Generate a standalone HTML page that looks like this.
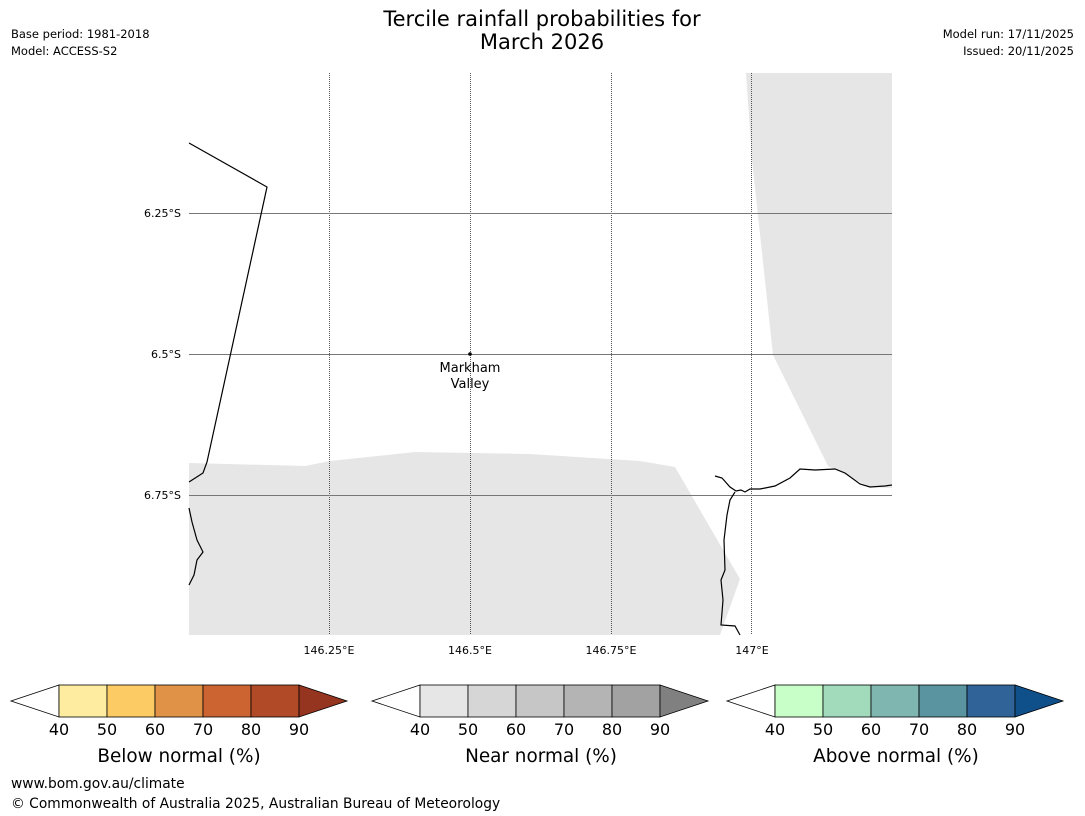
<!DOCTYPE html><html><head><style>body{margin:0;background:#fff}svg{display:block;font-family:"DejaVu Sans","Liberation Sans",sans-serif}</style></head><body>
<svg width="1085" height="816" viewBox="0 0 1085 816">
<text x="542" y="26" font-size="21" text-anchor="middle">Tercile rainfall probabilities for</text>
<text x="542" y="49" font-size="21" text-anchor="middle">March 2026</text>
<g font-size="11.5"><text x="11" y="38">Base period: 1981-2018</text><text x="11" y="55">Model: ACCESS-S2</text>
<text x="1074" y="38" text-anchor="end">Model run: 17/11/2025</text><text x="1074" y="55" text-anchor="end">Issued: 20/11/2025</text></g>
<g fill="#e6e6e6">
<polygon points="746,73 892,73 892,488 870,487 828,466 773,355 752,160"/>
<polygon points="189,463 305,466 330,461 415,452 530,454 640,461 675,467 740,579 720,635 189,635"/>
</g>
<g stroke="#555" stroke-width="1" stroke-dasharray="1,1"><line x1="329.5" y1="73" x2="329.5" y2="635"/><line x1="470.5" y1="73" x2="470.5" y2="635"/><line x1="611.5" y1="73" x2="611.5" y2="635"/><line x1="751.5" y1="73" x2="751.5" y2="635"/></g>
<g stroke="#777" stroke-width="1"><line x1="189" y1="213.5" x2="892" y2="213.5"/><line x1="189" y1="354.5" x2="892" y2="354.5"/><line x1="189" y1="495.5" x2="892" y2="495.5"/></g>
<g fill="none" stroke="#000" stroke-width="1.2">
<polyline points="189,143 267,187 207,462 203,473 189,482"/>
<polyline points="189,508 192,522 197,540 203,552 197,560 194,575 189,585"/>
<polyline points="715,476 722,478 730,487 736,491 741,490 745,492 750,489 760,489 775,486 790,478 800,469 815,470 835,469 845,473 860,484 870,487 885,486 892,485"/>
<polyline points="735,492 730,500 727,515 724,540 725,570 721,580 723,600 721,625 735,626 740,635"/>
</g>
<circle cx="470" cy="354" r="1.8"/>
<text x="470" y="372" font-size="13" text-anchor="middle">Markham</text><text x="470" y="388" font-size="13" text-anchor="middle">Valley</text>
<g font-size="11" text-anchor="end"><text x="181" y="217">6.25°S</text><text x="181" y="358">6.5°S</text><text x="181" y="499">6.75°S</text></g>
<g font-size="11" text-anchor="middle"><text x="329" y="654">146.25°E</text><text x="470" y="654">146.5°E</text><text x="611" y="654">146.75°E</text><text x="752" y="654">147°E</text></g>
<g stroke="#000" stroke-width="0.8">
<polygon points="59,685 11,701 59,717" fill="#fff"/>
<rect x="59" y="685" width="48" height="32" fill="#feeda0"/><rect x="107" y="685" width="48" height="32" fill="#fdcb64"/><rect x="155" y="685" width="48" height="32" fill="#e09247"/><rect x="203" y="685" width="48" height="32" fill="#cc6432"/><rect x="251" y="685" width="48" height="32" fill="#b04a27"/>
<polygon points="299,685 347,701 299,717" fill="#953520"/>
<polygon points="420,685 372,701 420,717" fill="#fff"/>
<rect x="420" y="685" width="48" height="32" fill="#e6e6e6"/><rect x="468" y="685" width="48" height="32" fill="#d6d6d6"/><rect x="516" y="685" width="48" height="32" fill="#c6c6c6"/><rect x="564" y="685" width="48" height="32" fill="#b4b4b4"/><rect x="612" y="685" width="48" height="32" fill="#a2a2a2"/>
<polygon points="660,685 708,701 660,717" fill="#808080"/>
<polygon points="775,685 727,701 775,717" fill="#fff"/>
<rect x="775" y="685" width="48" height="32" fill="#c8fec8"/><rect x="823" y="685" width="48" height="32" fill="#a2dabc"/><rect x="871" y="685" width="48" height="32" fill="#80b6b0"/><rect x="919" y="685" width="48" height="32" fill="#5a94a0"/><rect x="967" y="685" width="48" height="32" fill="#306498"/>
<polygon points="1015,685 1063,701 1015,717" fill="#10508a"/>
</g>
<g font-size="16" text-anchor="middle">
<text x="59" y="735">40</text><text x="107" y="735">50</text><text x="155" y="735">60</text><text x="203" y="735">70</text><text x="251" y="735">80</text><text x="299" y="735">90</text>
<text x="420" y="735">40</text><text x="468" y="735">50</text><text x="516" y="735">60</text><text x="564" y="735">70</text><text x="612" y="735">80</text><text x="660" y="735">90</text>
<text x="775" y="735">40</text><text x="823" y="735">50</text><text x="871" y="735">60</text><text x="919" y="735">70</text><text x="967" y="735">80</text><text x="1015" y="735">90</text>
</g>
<g font-size="18.4" text-anchor="middle"><text x="179" y="762">Below normal (%)</text><text x="541" y="762">Near normal (%)</text><text x="896" y="762">Above normal (%)</text></g>
<g font-size="13.8"><text x="11" y="788">www.bom.gov.au/climate</text><text x="11" y="808">© Commonwealth of Australia 2025, Australian Bureau of Meteorology</text></g>
</svg></body></html>
